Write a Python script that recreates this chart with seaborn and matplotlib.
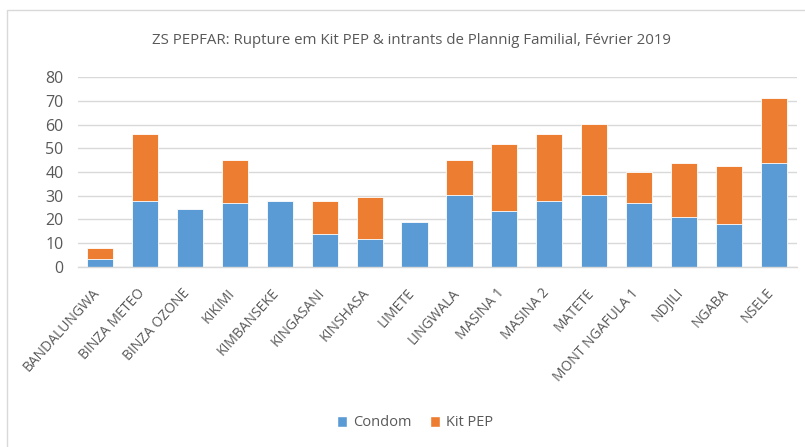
import matplotlib
matplotlib.use("Agg")
import matplotlib.pyplot as plt
import seaborn as sns
import pandas as pd
from matplotlib.patches import Rectangle, Patch

categories = ["BANDALUNGWA", "BINZA METEO", "BINZA OZONE", "KIKIMI", "KIMBANSEKE",
              "KINGASANI", "KINSHASA", "LIMETE", "LINGWALA", "MASINA 1", "MASINA 2",
              "MATETE", "MONT NGAFULA 1", "NDJILI", "NGABA", "NSELE"]
condom = [3.4, 27.9, 24.3, 27.0, 27.9, 13.9, 11.7, 18.7, 30.1, 23.4, 27.9, 30.1, 26.8, 21.0, 18.2, 43.7]
kit_pep = [4.6, 28.3, 0, 18.1, 0, 14.0, 17.6, 0, 15.0, 28.6, 28.3, 30.2, 13.2, 22.7, 24.2, 27.7]
yticks = [0, 10, 20, 30, 40, 50, 60, 70, 80]

blue = "#5B9BD5"
orange = "#ED7D31"
grey_text = "#595959"

df = pd.DataFrame({"cat": categories, "Condom": condom, "Kit PEP": kit_pep})
df["total"] = df["Condom"] + df["Kit PEP"]

sns.set_theme(style="white")
plt.rcParams["font.family"] = ["Open Sans", "DejaVu Sans"]

fig = plt.figure(figsize=(8.05, 4.47), dpi=100)
ax = fig.add_axes([77.5 / 805, 1 - 266.7 / 447, (796.5 - 77.5) / 805, (266.7 - 77.3) / 447])

sns.barplot(data=df, x="cat", y="total", color=orange, saturation=1, width=0.58,
            edgecolor="white", linewidth=0.6, ax=ax)
sns.barplot(data=df, x="cat", y="Condom", color=blue, saturation=1, width=0.58,
            edgecolor="white", linewidth=0.6, ax=ax)

ax.set_ylim(0, 80)
ax.set_xlim(-0.5, len(categories) - 0.5)
ax.set_yticks(yticks)
ax.set_yticklabels([str(v) for v in yticks], color=grey_text, fontsize=11.5)
ax.yaxis.grid(True, color="#D9D9D9", linewidth=1)
ax.set_axisbelow(True)
ax.set_xlabel("")
ax.set_ylabel("")
for s in ["top", "right", "left"]:
    ax.spines[s].set_visible(False)
ax.spines["bottom"].set_color("#D9D9D9")
ax.spines["bottom"].set_linewidth(1)
ax.tick_params(axis="y", length=0, pad=10)
ax.set_xticks(range(len(categories)))
ax.set_xticklabels(categories, rotation=48, ha="right", va="baseline", rotation_mode="anchor",
                   color=grey_text, fontsize=10)
ax.tick_params(axis="x", length=0, pad=19)

fig.text(411 / 805, 1 - 41 / 447, "ZS PEPFAR: Rupture em Kit PEP & intrants de Plannig Familial, Février 2019",
         ha="center", va="center", color=grey_text, fontsize=10.8)

handles = [Patch(facecolor=blue, label="Condom"), Patch(facecolor=orange, label="Kit PEP")]
fig.legend(handles=handles, loc="center", bbox_to_anchor=(415 / 805, 1 - 423 / 447), ncol=2,
           frameon=False, fontsize=10.5, handlelength=0.7, handleheight=0.7,
           columnspacing=1.3, handletextpad=0.4, labelcolor=grey_text)

fig.patches.append(Rectangle((7 / 805, -0.05), 1.0, 1 - 10 / 447 + 0.05, transform=fig.transFigure,
                             fill=False, edgecolor="#D9D9D9", linewidth=1))

fig.savefig("out.png", dpi=100)
